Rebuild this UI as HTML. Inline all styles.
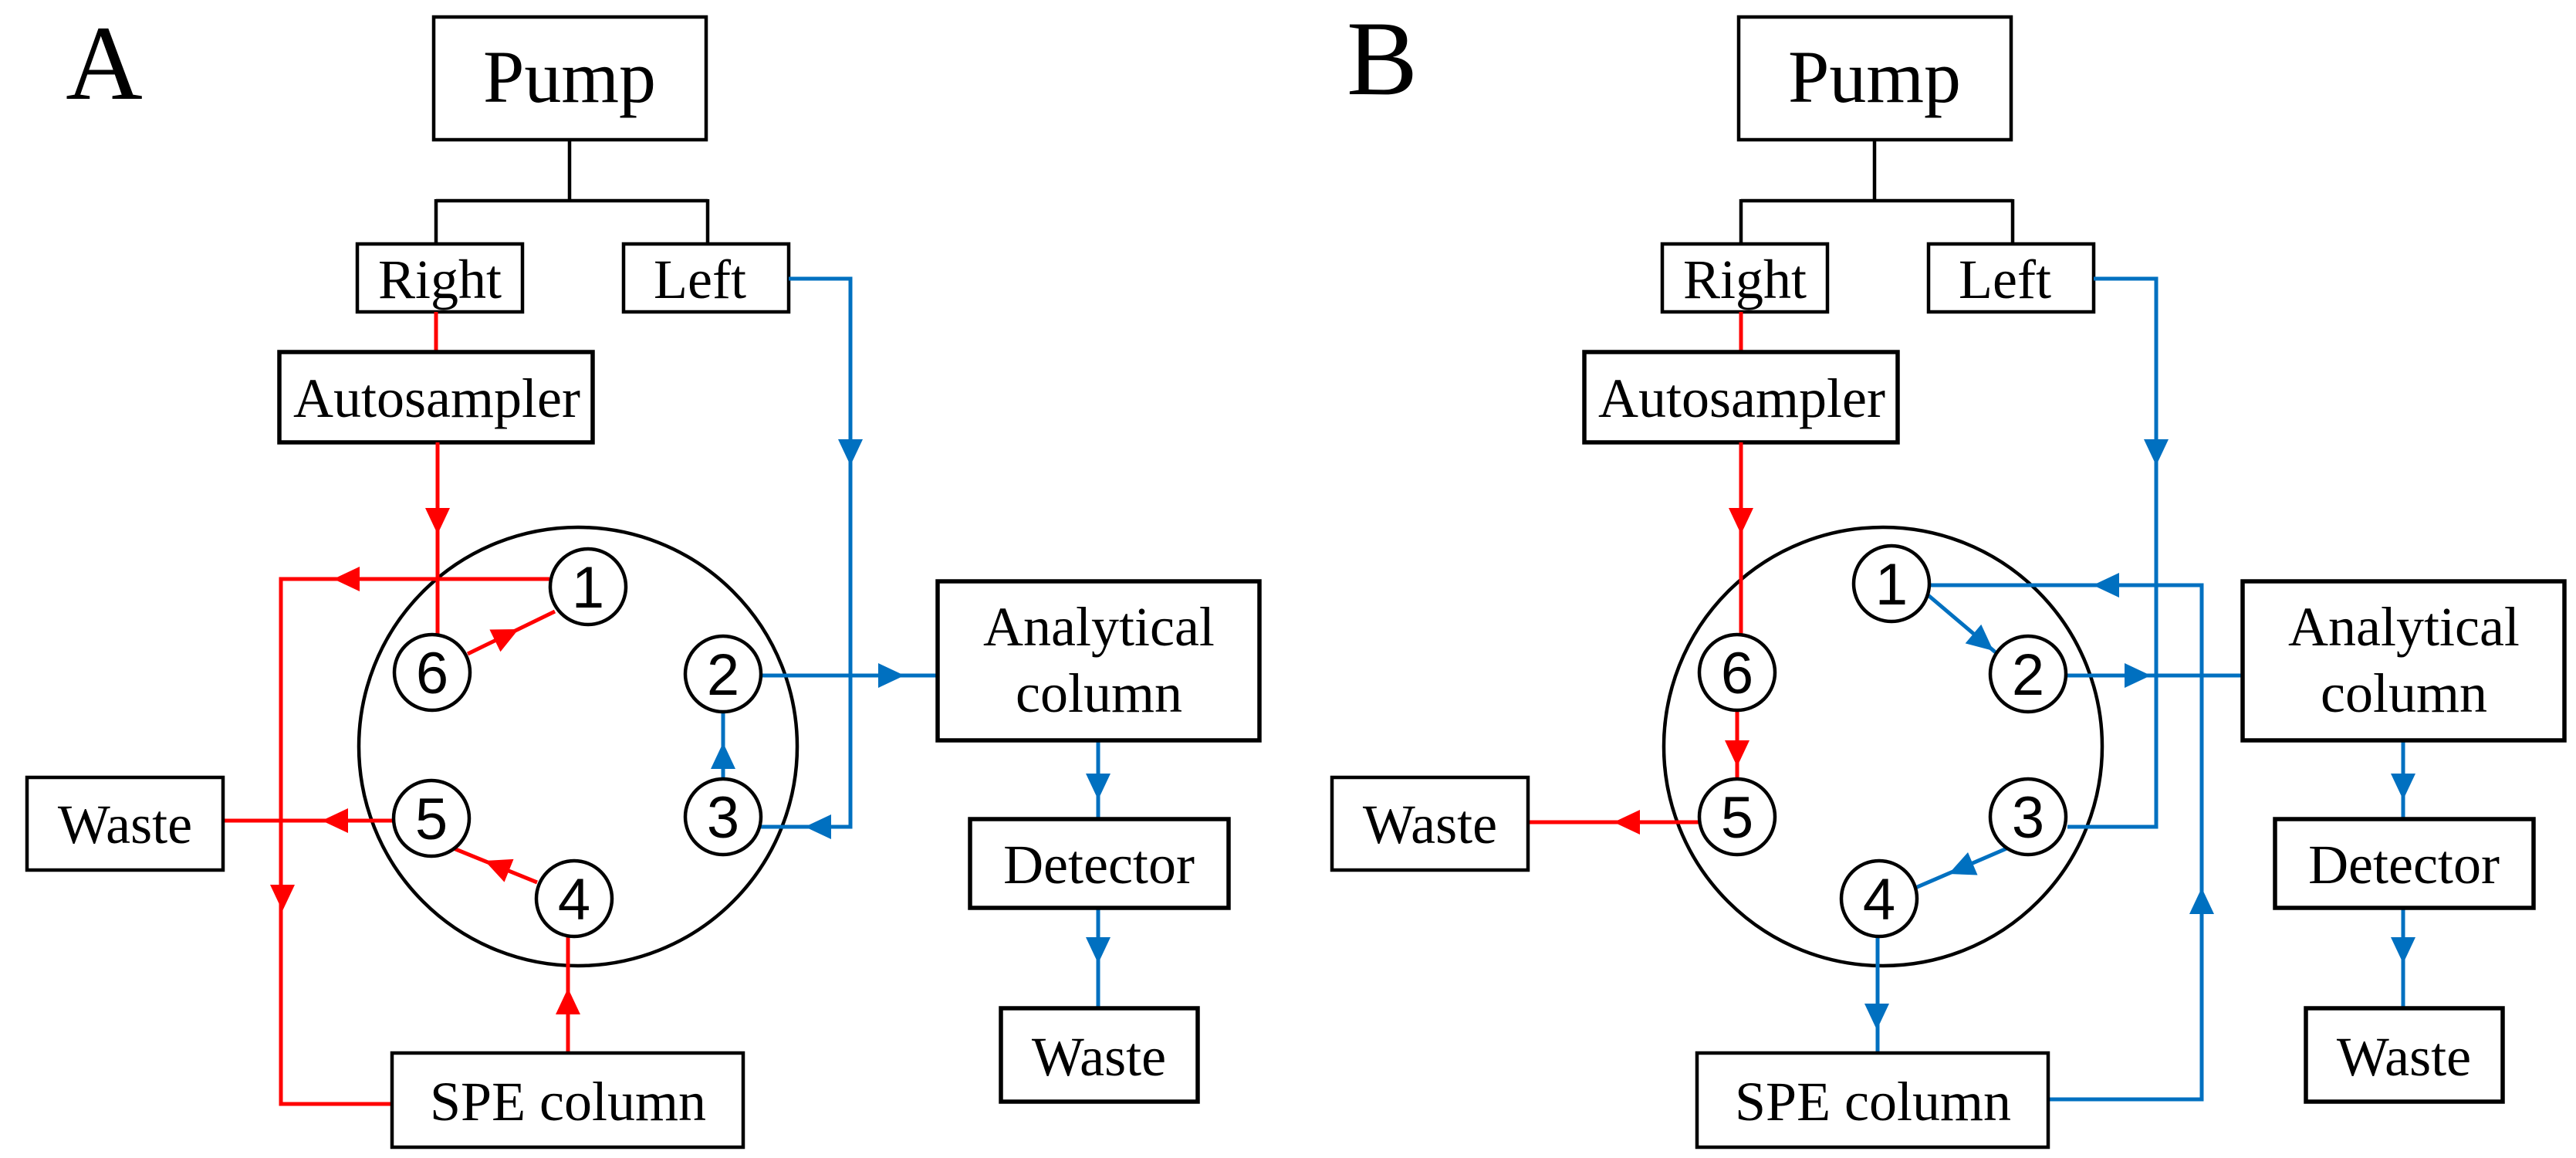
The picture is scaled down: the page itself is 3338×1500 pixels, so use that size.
<!DOCTYPE html>
<html><head><meta charset="utf-8"><style>
html,body{margin:0;padding:0;background:#fff;}
svg{display:block;}
.bx{fill:#fff;stroke:#000;stroke-width:4.5;}
.t{font-family:"Liberation Serif",serif;font-size:72px;fill:#000;text-anchor:middle;}
.n{font-family:"Liberation Sans",sans-serif;font-size:76px;fill:#000;text-anchor:middle;}
.r{stroke:#ff0000;stroke-width:5;fill:none;}
.b{stroke:#0070c0;stroke-width:5;fill:none;}
.k{stroke:#000;stroke-width:4.5;fill:none;}
.sc{fill:#fff;stroke:#000;stroke-width:4.5;}
</style></head><body>
<svg width="3338" height="1500" viewBox="0 0 3338 1500" xmlns="http://www.w3.org/2000/svg">
<defs><path id="ah" d="M0,0 L-34,-16 L-34,16 Z"/></defs>

<!-- ============ PANEL A ============ -->
<g id="A">
<text x="135" y="128" style="font-family:'Liberation Serif',serif;font-size:138px;text-anchor:middle;">A</text>
<path class="k" d="M738,181 V260 M565,260 H917 M565,258 V316 M917,258 V316"/>
<rect class="bx" x="562" y="22" width="353" height="159"/>
<text class="t" x="738" y="132" style="font-size:96px">Pump</text>
<rect class="bx" x="463" y="316" width="214" height="88"/>
<text class="t" x="570" y="386">Right</text>
<rect class="bx" x="808" y="316" width="214" height="88"/>
<text class="t" x="907" y="386">Left</text>
<path class="r" d="M565,404 V456"/>
<rect class="bx" x="362" y="456" width="406" height="117" style="stroke-width:5.5"/>
<text class="t" x="566" y="540">Autosampler</text>

<circle cx="749" cy="967" r="284" fill="none" stroke="#000" stroke-width="4.5"/>

<path class="r" d="M567,573 V822"/>
<use href="#ah" fill="#ff0000" transform="translate(567,692) rotate(90)"/>
<path class="r" d="M712,750 H364 V1430 H508"/>
<use href="#ah" fill="#ff0000" transform="translate(432,750) rotate(180)"/>
<use href="#ah" fill="#ff0000" transform="translate(366,1180) rotate(90)"/>
<path class="r" d="M736,1364 V1214"/>
<use href="#ah" fill="#ff0000" transform="translate(736,1280) rotate(-90)"/>
<path class="r" d="M606,847 L719,792"/>
<use href="#ah" fill="#ff0000" transform="translate(672,815) rotate(-26)"/>
<path class="r" d="M696,1143 L583,1097"/>
<use href="#ah" fill="#ff0000" transform="translate(628,1115) rotate(202)"/>
<path class="r" d="M510,1063 H289"/>
<use href="#ah" fill="#ff0000" transform="translate(417,1063) rotate(180)"/>

<path class="b" d="M1022,361 H1102 V1071 H986"/>
<use href="#ah" fill="#0070c0" transform="translate(1102,603) rotate(90)"/>
<use href="#ah" fill="#0070c0" transform="translate(1043,1071) rotate(180)"/>
<path class="b" d="M937,1010 V922"/>
<use href="#ah" fill="#0070c0" transform="translate(937,962) rotate(-90)"/>
<path class="b" d="M986,875 H1215"/>
<use href="#ah" fill="#0070c0" transform="translate(1172,875) rotate(0)"/>
<path class="b" d="M1423,959 V1061 M1423,1176 V1306"/>
<use href="#ah" fill="#0070c0" transform="translate(1423,1036) rotate(90)"/>
<use href="#ah" fill="#0070c0" transform="translate(1423,1248) rotate(90)"/>

<circle class="sc" cx="762" cy="760" r="49"/><text class="n" x="762" y="787">1</text>
<circle class="sc" cx="560" cy="871" r="49"/><text class="n" x="560" y="898">6</text>
<circle class="sc" cx="937" cy="873" r="49"/><text class="n" x="937" y="900">2</text>
<circle class="sc" cx="559" cy="1060" r="49"/><text class="n" x="559" y="1087">5</text>
<circle class="sc" cx="937" cy="1058" r="49"/><text class="n" x="937" y="1085">3</text>
<circle class="sc" cx="744" cy="1164" r="49"/><text class="n" x="744" y="1191">4</text>

<rect class="bx" x="35" y="1007" width="254" height="120"/>
<text class="t" x="162" y="1092">Waste</text>
<rect class="bx" x="508" y="1364" width="455" height="122"/>
<text class="t" x="736" y="1451">SPE column</text>
<rect class="bx" x="1215" y="753" width="417" height="206" style="stroke-width:5.5"/>
<text class="t" x="1424" y="836">Analytical</text>
<text class="t" x="1424" y="922">column</text>
<rect class="bx" x="1257" y="1061" width="335" height="115" style="stroke-width:5.5"/>
<text class="t" x="1424" y="1144">Detector</text>
<rect class="bx" x="1297" y="1306" width="255" height="121" style="stroke-width:5.5"/>
<text class="t" x="1424" y="1393">Waste</text>
</g>

<!-- ============ PANEL B ============ -->
<g transform="translate(1691,0)">
<text x="100" y="122" style="font-family:'Liberation Serif',serif;font-size:138px;text-anchor:middle;">B</text>
<path class="k" d="M738,181 V260 M565,260 H917 M565,258 V316 M917,258 V316"/>
<rect class="bx" x="562" y="22" width="353" height="159"/>
<text class="t" x="738" y="132" style="font-size:96px">Pump</text>
<rect class="bx" x="463" y="316" width="214" height="88"/>
<text class="t" x="570" y="386">Right</text>
<rect class="bx" x="808" y="316" width="214" height="88"/>
<text class="t" x="907" y="386">Left</text>
<path class="r" d="M565,404 V456"/>
<rect class="bx" x="362" y="456" width="406" height="117" style="stroke-width:5.5"/>
<text class="t" x="566" y="540">Autosampler</text>

<circle cx="749" cy="967" r="284" fill="none" stroke="#000" stroke-width="4.5"/>

<path class="r" d="M565,573 V822"/>
<use href="#ah" fill="#ff0000" transform="translate(565,692) rotate(90)"/>
<path class="r" d="M560,920 V1011"/>
<use href="#ah" fill="#ff0000" transform="translate(560,993) rotate(90)"/>
<path class="r" d="M510,1065 H289"/>
<use href="#ah" fill="#ff0000" transform="translate(400,1065) rotate(180)"/>

<path class="b" d="M1022,361 H1103 V1071 H988"/>
<use href="#ah" fill="#0070c0" transform="translate(1103,603) rotate(90)"/>
<path class="b" d="M914,1097 L791,1150"/>
<use href="#ah" fill="#0070c0" transform="translate(834,1132) rotate(157)"/>
<path class="b" d="M742,1212 V1364"/>
<use href="#ah" fill="#0070c0" transform="translate(741,1334) rotate(90)"/>
<path class="b" d="M963,1424 H1162 V758 H810"/>
<use href="#ah" fill="#0070c0" transform="translate(1162,1150) rotate(-90)"/>
<use href="#ah" fill="#0070c0" transform="translate(1021,758) rotate(180)"/>
<path class="b" d="M804,768 L896,846"/>
<use href="#ah" fill="#0070c0" transform="translate(892,843) rotate(40)"/>
<path class="b" d="M986,875 H1215"/>
<use href="#ah" fill="#0070c0" transform="translate(1096,875) rotate(0)"/>
<path class="b" d="M1423,959 V1061 M1423,1176 V1306"/>
<use href="#ah" fill="#0070c0" transform="translate(1423,1036) rotate(90)"/>
<use href="#ah" fill="#0070c0" transform="translate(1423,1248) rotate(90)"/>

<circle class="sc" cx="760" cy="756" r="49"/><text class="n" x="760" y="783">1</text>
<circle class="sc" cx="560" cy="871" r="49"/><text class="n" x="560" y="898">6</text>
<circle class="sc" cx="937" cy="873" r="49"/><text class="n" x="937" y="900">2</text>
<circle class="sc" cx="560" cy="1058" r="49"/><text class="n" x="560" y="1085">5</text>
<circle class="sc" cx="937" cy="1058" r="49"/><text class="n" x="937" y="1085">3</text>
<circle class="sc" cx="744" cy="1164" r="49"/><text class="n" x="744" y="1191">4</text>

<rect class="bx" x="35" y="1007" width="254" height="120"/>
<text class="t" x="162" y="1092">Waste</text>
<rect class="bx" x="508" y="1364" width="455" height="122"/>
<text class="t" x="736" y="1451">SPE column</text>
<rect class="bx" x="1215" y="753" width="417" height="206" style="stroke-width:5.5"/>
<text class="t" x="1424" y="836">Analytical</text>
<text class="t" x="1424" y="922">column</text>
<rect class="bx" x="1257" y="1061" width="335" height="115" style="stroke-width:5.5"/>
<text class="t" x="1424" y="1144">Detector</text>
<rect class="bx" x="1297" y="1306" width="255" height="121" style="stroke-width:5.5"/>
<text class="t" x="1424" y="1393">Waste</text>
</g>
</svg>
</body></html>
